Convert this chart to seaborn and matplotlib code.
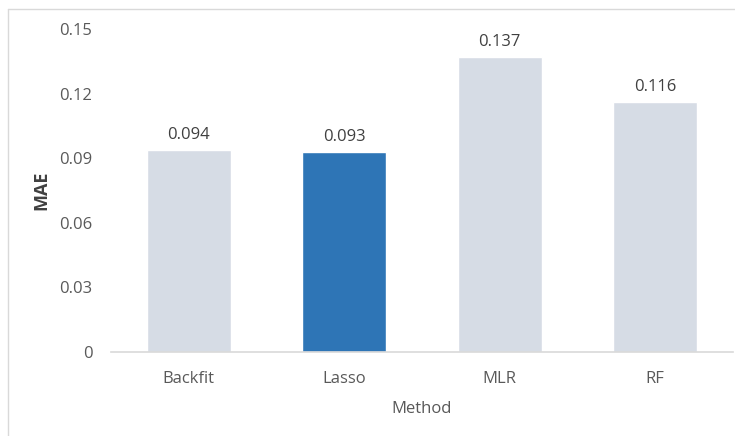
import matplotlib
matplotlib.use("Agg")
import matplotlib.pyplot as plt
import seaborn as sns
import pandas as pd
from matplotlib.lines import Line2D

methods = ["Backfit", "Lasso", "MLR", "RF"]
mae = [0.094, 0.093, 0.137, 0.116]
labels = ["0.094", "0.093", "0.137", "0.116"]
yticks = [0, 0.03, 0.06, 0.09, 0.12, 0.15]
ytick_labels = ["0", "0.03", "0.06", "0.09", "0.12", "0.15"]

sns.set_theme(style="white")
plt.rcParams['font.family'] = ['Open Sans', 'DejaVu Sans']

grey = "#D6DCE5"
blue = "#2E75B6"
txt = "#595959"
palette = {"Backfit": grey, "Lasso": blue, "MLR": grey, "RF": grey}

df = pd.DataFrame({"Method": methods, "MAE": mae})

fig = plt.figure(figsize=(7.35, 4.36), dpi=100)
ax = fig.add_axes([111/735, 84/436, 622/735, 323/436])
sns.barplot(data=df, x="Method", y="MAE", hue="Method", palette=palette,
            width=0.54, legend=False, ax=ax, saturation=1)

ax.set_ylim(0, 0.15)
ax.set_xlim(-0.5, 3.5)
ax.set_yticks(yticks)
ax.set_yticklabels(ytick_labels)
ax.tick_params(axis='both', length=0, labelsize=12, colors=txt)
ax.tick_params(axis='y', pad=13.5)
ax.tick_params(axis='x', pad=14)
for s in ["left", "right", "top"]:
    ax.spines[s].set_visible(False)
ax.spines["bottom"].set_color("#D9D9D9")
ax.spines["bottom"].set_linewidth(1.2)

for i, cont in enumerate(ax.containers):
    ax.bar_label(cont, labels=[labels[i]], padding=5, fontsize=12, color="#404040")

ax.set_xlabel("Method", fontsize=12, color=txt, labelpad=10)
ax.set_ylabel("MAE", fontsize=13, color="#404040", fontweight="bold", labelpad=6)

fig.add_artist(Line2D([8/735, 8/735], [0, 1 - 9/436], transform=fig.transFigure, color="#D9D9D9", lw=1))
fig.add_artist(Line2D([8/735, 1], [1 - 9/436, 1 - 9/436], transform=fig.transFigure, color="#D9D9D9", lw=1))

fig.savefig("out.png", dpi=100)
